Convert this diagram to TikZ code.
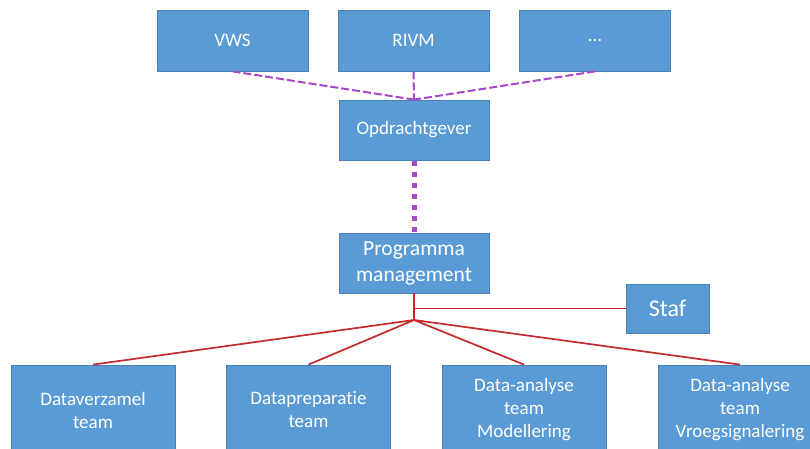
\documentclass[tikz,border=0pt]{standalone}
\usepackage{fontspec}
\setmainfont{Carlito}[Ligatures=NoCommon]
\definecolor{boxblue}{HTML}{5B9BD5}
\definecolor{boxedge}{HTML}{4A80B8}
\definecolor{linkpurple}{HTML}{A848C8}
\definecolor{linkred}{HTML}{C42A2A}
\tikzset{
  orgbox/.style={rectangle, fill=boxblue, draw=boxedge, line width=0.8pt, text=white,
    align=center, inner sep=0pt, font=\fontsize{19}{23}\selectfont},
  topbox/.style={orgbox, minimum width=151pt, minimum height=61pt},
  teambox/.style={orgbox, minimum width=164pt, minimum height=90pt},
  purplelink/.style={draw=linkpurple, line width=2pt, dash pattern=on 8pt off 3pt},
  purpledots/.style={draw=linkpurple, line width=5pt, dash pattern=on 5pt off 6pt},
  redlink/.style={draw=linkred, line width=1.7pt}
}
\begin{document}
\begin{tikzpicture}[x=1pt,y=1pt]
\clip (0,0) rectangle (810,-448);
\fill[white] (0,0) rectangle (810,-448);
% top row
\node[topbox] (vws) at (232.5,-40.5) {VWS};
\node[topbox] (rivm) at (413.5,-40.5) {RIVM};
\node[topbox] (etc) at (595,-40.5) {{.}{.}{.}};
\node[orgbox, minimum width=150pt, minimum height=60pt] (opd) at (414,-130) {Opdrachtgever};
\node[orgbox, minimum width=150pt, minimum height=60pt, font=\fontsize{21.5}{26}\selectfont] (prog) at (414,-263) {Programma\\management};
\node[orgbox, minimum width=83pt, minimum height=49pt, font=\fontsize{24}{28}\selectfont] (staf) at (667.5,-308.5) {Staf};
% teams
\node[teambox] (verz) at (93,-410) {Dataverzamel\\team};
\node[teambox] (prep) at (308.5,-410) {Datapreparatie\\team};
\node[teambox] (mod) at (524,-410) {Data-analyse\\team\\Modellering};
\node[teambox] (vroeg) at (740,-410) {Data-analyse\\team\\Vroegsignalering};
\coordinate (hub) at (414,-320);
% purple links
\draw[purplelink] (vws.south) -- (opd.north);
\draw[purplelink] (rivm.south) -- (opd.north);
\draw[purplelink] (etc.south) -- (opd.north);
\draw[purpledots] ([yshift=-1pt]opd.south) -- (prog.north);
% red links
\draw[redlink] (prog.south) -- (hub);
\draw[redlink] (staf.west) -- (staf.west -| prog.south);
\draw[redlink] (hub) -- (verz.north);
\draw[redlink] (hub) -- (prep.north);
\draw[redlink] (hub) -- (mod.north);
\draw[redlink] (hub) -- (vroeg.north);
\end{tikzpicture}
\end{document}
